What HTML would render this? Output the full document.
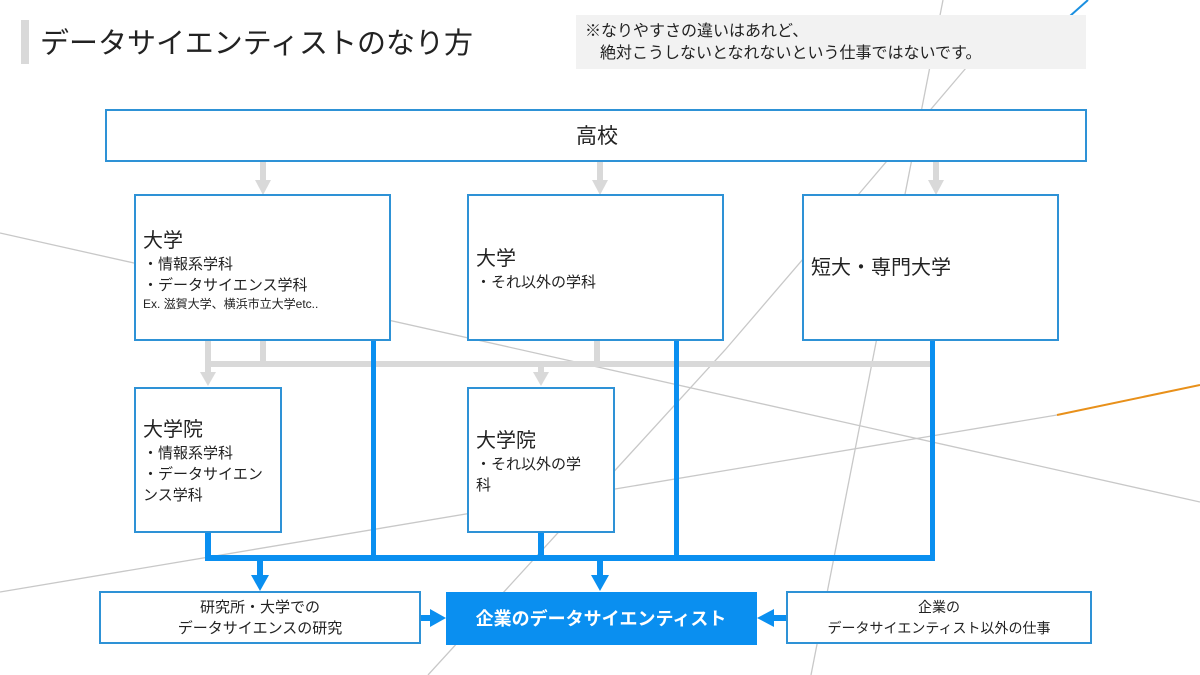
<!DOCTYPE html>
<html><head><meta charset="utf-8"><style>
html,body{margin:0;padding:0;background:#fff;}
svg{display:block;font-family:"Liberation Sans","Noto Sans CJK JP",sans-serif;}
</style></head><body>
<svg width="1200" height="675" viewBox="0 0 1200 675" xmlns="http://www.w3.org/2000/svg">
<rect width="1200" height="675" fill="#fff"/>
<!-- background lines -->
<g stroke="#c8c8c8" stroke-width="1.3" fill="none">
<line x1="0" y1="233" x2="1200" y2="502"/>
<line x1="0" y1="592" x2="1057" y2="415"/>
<line x1="943" y1="0" x2="811" y2="675"/>
<polyline points="1070,16 966,68 858,195 725,350 428,675"/>
</g>
<line x1="1057" y1="415" x2="1200" y2="385" stroke="#e8901a" stroke-width="2"/>
<line x1="1088" y1="0" x2="1070" y2="16" stroke="#1a8fe0" stroke-width="2"/>

<!-- title -->
<rect x="21" y="20" width="8" height="44" fill="#d9d9d9"/>
<text x="40" y="53" font-size="29" fill="#222">データサイエンティストのなり方</text>
<rect x="576" y="15" width="510" height="54" fill="#f2f2f2"/>
<text x="585" y="36" font-size="16" fill="#222">※なりやすさの違いはあれど、</text>
<text x="600" y="58" font-size="16" fill="#222">絶対こうしないとなれないという仕事ではないです。</text>

<!-- gray connectors -->
<g fill="#d9d9d9">
<rect x="260" y="161" width="6" height="22"/><polygon points="255,180 271,180 263,195"/>
<rect x="597" y="161" width="6" height="22"/><polygon points="592,180 608,180 600,195"/>
<rect x="933" y="161" width="6" height="22"/><polygon points="928,180 944,180 936,195"/>
<rect x="205" y="340" width="6" height="35"/><polygon points="200,372 216,372 208,386"/>
<rect x="260" y="340" width="6" height="24"/>
<rect x="594" y="340" width="6" height="24"/>
<rect x="205" y="361" width="727" height="6"/>
<rect x="538" y="364" width="6" height="11"/><polygon points="533,372 549,372 541,386"/>
</g>

<!-- blue connectors -->
<g fill="#0a8ff0">
<rect x="371" y="340" width="5" height="221"/>
<rect x="674" y="340" width="5" height="221"/>
<rect x="930" y="340" width="5" height="221"/>
<rect x="205" y="532" width="6" height="29"/>
<rect x="538" y="532" width="6" height="29"/>
<rect x="205" y="555" width="730" height="6"/>
<rect x="257" y="558" width="6" height="20"/><polygon points="251,575 269,575 260,591"/>
<rect x="597" y="558" width="6" height="20"/><polygon points="591,575 609,575 600,591"/>
<rect x="420" y="615" width="12" height="6"/><polygon points="430,609 430,627 446,618"/>
<rect x="772" y="615" width="15" height="6"/><polygon points="774,609 774,627 757,618"/>
</g>

<!-- boxes -->
<g fill="#fff" stroke="#2e92d6" stroke-width="2">
<rect x="106" y="110" width="980" height="51"/>
<rect x="135" y="195" width="255" height="145"/>
<rect x="468" y="195" width="255" height="145"/>
<rect x="803" y="195" width="255" height="145"/>
<rect x="135" y="388" width="146" height="144"/>
<rect x="468" y="388" width="146" height="144"/>
<rect x="100" y="592" width="320" height="51"/>
<rect x="787" y="592" width="304" height="51"/>
</g>
<rect x="446" y="592" width="311" height="53" fill="#0a8ff0"/>

<g fill="#222">
<text x="597" y="143" font-size="21" text-anchor="middle">高校</text>
<text x="143" y="247" font-size="20">大学</text>
<text x="143" y="269" font-size="15">・情報系学科</text>
<text x="143" y="290" font-size="15">・データサイエンス学科</text>
<text x="143" y="308" font-size="12">Ex. 滋賀大学、横浜市立大学etc..</text>
<text x="476" y="265" font-size="20">大学</text>
<text x="476" y="287" font-size="15">・それ以外の学科</text>
<text x="811" y="274" font-size="20">短大・専門大学</text>
<text x="143" y="436" font-size="20">大学院</text>
<text x="143" y="458" font-size="15">・情報系学科</text>
<text x="143" y="479" font-size="15">・データサイエン</text>
<text x="143" y="500" font-size="15">ンス学科</text>
<text x="476" y="447" font-size="20">大学院</text>
<text x="476" y="469" font-size="15">・それ以外の学</text>
<text x="476" y="490" font-size="15">科</text>
<text x="260" y="612" font-size="15" text-anchor="middle">研究所・大学での</text>
<text x="260" y="633" font-size="15" text-anchor="middle">データサイエンスの研究</text>
<text x="939" y="612" font-size="14" text-anchor="middle">企業の</text>
<text x="939" y="633" font-size="14" text-anchor="middle">データサイエンティスト以外の仕事</text>
</g>
<text x="601" y="625" font-size="18" font-weight="bold" fill="#fff" text-anchor="middle">企業のデータサイエンティスト</text>
</svg>
</body></html>
